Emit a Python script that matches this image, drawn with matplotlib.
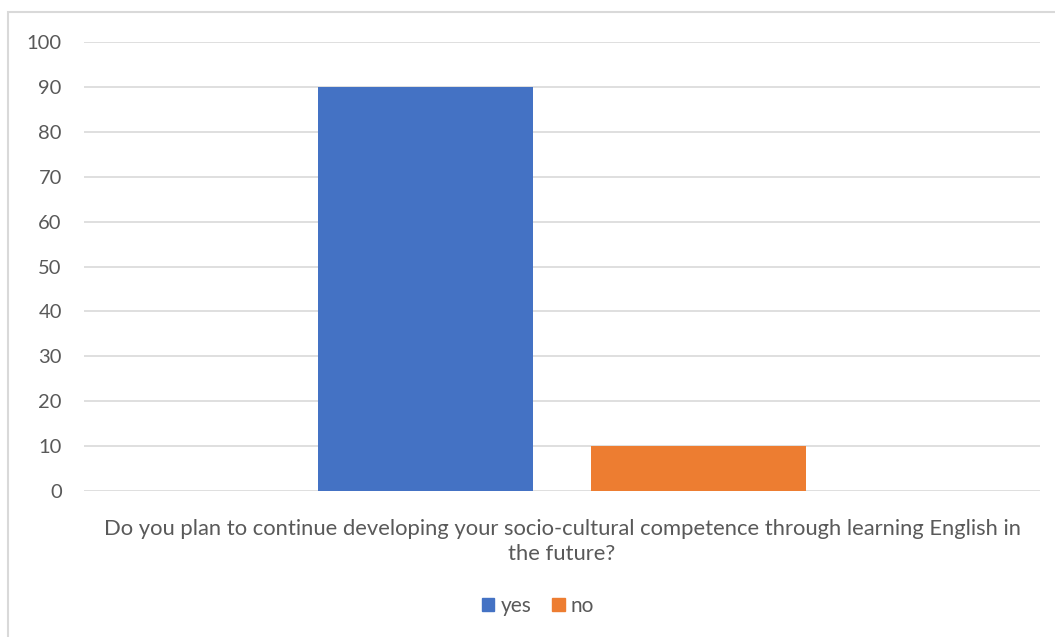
import matplotlib
matplotlib.use("Agg")
import matplotlib.pyplot as plt
from matplotlib.patches import Rectangle, Patch

category = "Do you plan to continue developing your socio-cultural competence through learning English in\nthe future?"
series_names = ["yes", "no"]
series_values = [90, 10]
colors = ["#4472C4", "#ED7D31"]
yticks = [0, 10, 20, 30, 40, 50, 60, 70, 80, 90, 100]

plt.rcParams['font.family'] = ['Lato', 'DejaVu Sans']

W, H = 1055, 637
fig = plt.figure(figsize=(W/100, H/100), dpi=100)

# outer chart border
fig.patches.append(Rectangle((8/W, -0.2), 1.2, 1.2 - 12/H, transform=fig.transFigure,
                             fill=False, edgecolor="#d9d9d9", linewidth=1.5))

x0, x1, y0, y1 = 84, 1040, 42, 491
ax = fig.add_axes([x0/W, 1 - y1/H, (x1-x0)/W, (y1-y0)/H])

width = 0.225
offsets = [-0.1428, 0.1428]
for name, v, c, off in zip(series_names, series_values, colors, offsets):
    ax.bar(off, v, width=width, color=c, label=name, zorder=3)

ax.set_xlim(-0.5, 0.5)
ax.set_ylim(0, 100)
ax.set_yticks(yticks)
ax.set_yticklabels([str(t) for t in yticks])
ax.grid(axis='y', color="#d9d9d9", linewidth=1.2, zorder=0)
for s in ax.spines.values():
    s.set_visible(False)
ax.tick_params(axis='y', length=0, pad=16, labelsize=14.5, labelcolor="#595959")
ax.set_xticks([0])
ax.set_xticklabels([category], fontsize=15.8, color="#595959", linespacing=1.3)
ax.tick_params(axis='x', length=0, pad=20)

handles = [Patch(color=c, label=n) for n, c in zip(series_names, colors)]
fig.legend(handles=handles, loc='center', bbox_to_anchor=(538/W, 1 - 606/H), ncol=2,
           frameon=False, fontsize=15, labelcolor="#595959",
           handlelength=0.6, handleheight=0.6, handletextpad=0.3, columnspacing=1.0)

fig.savefig("out.png", dpi=100)
